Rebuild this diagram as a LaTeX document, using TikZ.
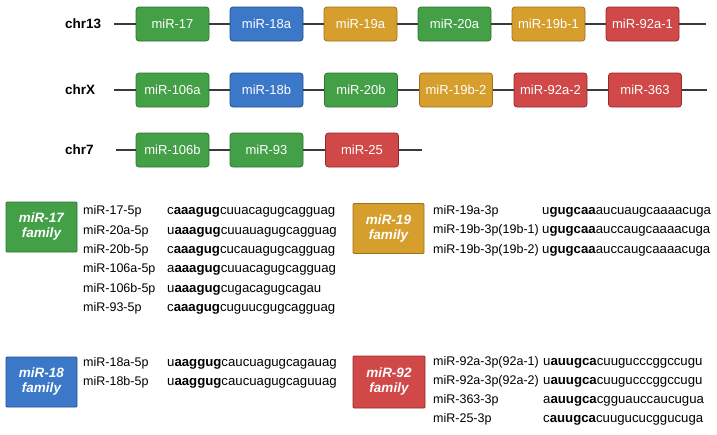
\documentclass[tikz,border=0pt]{standalone}
\usepackage{fontspec}
\setmainfont{Liberation Sans}
\definecolor{cG}{HTML}{43A047}
\definecolor{cGd}{HTML}{2E7531}
\definecolor{cB}{HTML}{3B78C8}
\definecolor{cBd}{HTML}{22508E}
\definecolor{cY}{HTML}{D69E2C}
\definecolor{cYd}{HTML}{9E711A}
\definecolor{cR}{HTML}{D04848}
\definecolor{cRd}{HTML}{952A2A}
\definecolor{cLine}{HTML}{3A3A3A}
\tikzset{
  gene/.style={rounded corners=3pt, minimum width=73pt, minimum height=34pt, text=white,
    font=\fontsize{13}{15}\selectfont, line width=0.8pt, inner sep=0pt},
  chrlab/.style={font=\bfseries\fontsize{13.5}{16}\selectfont, anchor=west, inner sep=0pt},
  chrline/.style={draw=cLine, line width=1.3pt},
  fam/.style={rounded corners=1pt, minimum width=71pt, minimum height=50pt, text=white,
    font=\bfseries\itshape\fontsize{13.5}{15}\selectfont, align=center, line width=0.8pt, inner sep=0pt},
  lab/.style={anchor=mid west, font=\fontsize{12.5}{15}\selectfont, inner sep=0pt},
  seq/.style={anchor=mid west, font=\fontsize{13.2}{15}\selectfont, inner sep=0pt},
}
\newcommand{\sq}[3]{#1\textbf{#2}#3}
\begin{document}
\begin{tikzpicture}[x=1pt,y=-1pt]
\path[use as bounding box] (0,0) rectangle (717,434);
% chr13
\node[chrlab] (l13) at (65,23.5) {chr13};
\coordinate (s13) at (114,24);
\coordinate (e13) at (706,24);
\node[gene,fill=cG,draw=cGd] (a1) at (172.5,24) {miR-17};
\node[gene,fill=cB,draw=cBd] (a2) at (266.5,24) {miR-18a};
\node[gene,fill=cY,draw=cYd] (a3) at (360.5,24) {miR-19a};
\node[gene,fill=cG,draw=cGd] (a4) at (454.5,24) {miR-20a};
\node[gene,fill=cY,draw=cYd] (a5) at (548.5,24) {miR-19b-1};
\node[gene,fill=cR,draw=cRd] (a6) at (642.5,24) {miR-92a-1};
\draw[chrline] (s13) -- (a1) -- (a2) -- (a3) -- (a4) -- (a5) -- (a6) -- (e13);
% chrX
\node[chrlab] (lX) at (65,89.5) {chrX};
\coordinate (sX) at (114,90);
\coordinate (eX) at (707,90);
\node[gene,fill=cG,draw=cGd] (b1) at (172.5,90) {miR-106a};
\node[gene,fill=cB,draw=cBd] (b2) at (266.5,90) {miR-18b};
\node[gene,fill=cG,draw=cGd] (b3) at (361,90) {miR-20b};
\node[gene,fill=cY,draw=cYd] (b4) at (456,90) {miR-19b-2};
\node[gene,fill=cR,draw=cRd] (b5) at (550.5,90) {miR-92a-2};
\node[gene,fill=cR,draw=cRd] (b6) at (645,90) {miR-363};
\draw[chrline] (sX) -- (b1) -- (b2) -- (b3) -- (b4) -- (b5) -- (b6) -- (eX);
% chr7
\node[chrlab] (l7) at (65,149.5) {chr7};
\coordinate (s7) at (116,150);
\coordinate (e7) at (422,150);
\node[gene,fill=cG,draw=cGd] (c1) at (172.5,150) {miR-106b};
\node[gene,fill=cG,draw=cGd] (c2) at (266.5,150) {miR-93};
\node[gene,fill=cR,draw=cRd] (c3) at (362,150) {miR-25};
\draw[chrline] (s7) -- (c1) -- (c2) -- (c3) -- (e7);
% miR-17 family
\node[fam,fill=cG,draw=cGd] (f17) at (41.5,227) {miR-17\\family};
\foreach \n/\s [count=\i from 0] in {
  miR-17-5p/\sq{c}{aaagug}{cuuacagugcagguag},
  miR-20a-5p/\sq{u}{aaagug}{cuuauagugcagguag},
  miR-20b-5p/\sq{c}{aaagug}{cucauagugcagguag},
  miR-106a-5p/\sq{a}{aaagug}{cuuacagugcagguag},
  miR-106b-5p/\sq{u}{aaagug}{cugacagugcagau},
  miR-93-5p/\sq{c}{aaagug}{cuguucgugcagguag}}{
  \node[lab] (n17\i) at (83,212+19.4*\i) {\n};
  \node[seq] (q17\i) at (167,212+19.4*\i) {\s};
}
% miR-19 family
\node[fam,fill=cY,draw=cYd] (f19) at (388.5,228.5) {miR-19\\family};
\foreach \n/\s [count=\i from 0] in {
  miR-19a-3p/\sq{u}{gugcaa}{aucuaugcaaaacuga},
  miR-19b-3p(19b-1)/\sq{u}{gugcaa}{auccaugcaaaacuga},
  miR-19b-3p(19b-2)/\sq{u}{gugcaa}{auccaugcaaaacuga}}{
  \node[lab] (n19\i) at (433,212+19.2*\i) {\n};
  \node[seq] (q19\i) at (542,212+19.2*\i) {\s};
}
% miR-18 family
\node[fam,fill=cB,draw=cBd] (f18) at (41.5,382) {miR-18\\family};
\foreach \n/\s [count=\i from 0] in {
  miR-18a-5p/\sq{u}{aaggug}{caucuagugcagauag},
  miR-18b-5p/\sq{u}{aaggug}{caucuagugcaguuag}}{
  \node[lab] (n18\i) at (83,364+19*\i) {\n};
  \node[seq] (q18\i) at (167,364+19*\i) {\s};
}
% miR-92 family
\node[fam,fill=cR,draw=cRd,minimum width=72pt,minimum height=52pt] (f92) at (389,382) {miR-92\\family};
\foreach \n/\s [count=\i from 0] in {
  miR-92a-3p(92a-1)/\sq{u}{auugca}{cuugucccggccugu},
  miR-92a-3p(92a-2)/\sq{u}{auugca}{cuugucccggccugu},
  miR-363-3p/\sq{a}{auugca}{cgguauccaucugua},
  miR-25-3p/\sq{c}{auugca}{cuugucucggucuga}}{
  \node[lab] (n92\i) at (433,363+19*\i) {\n};
  \node[seq] (q92\i) at (543,363+19*\i) {\s};
}
\end{tikzpicture}
\end{document}
